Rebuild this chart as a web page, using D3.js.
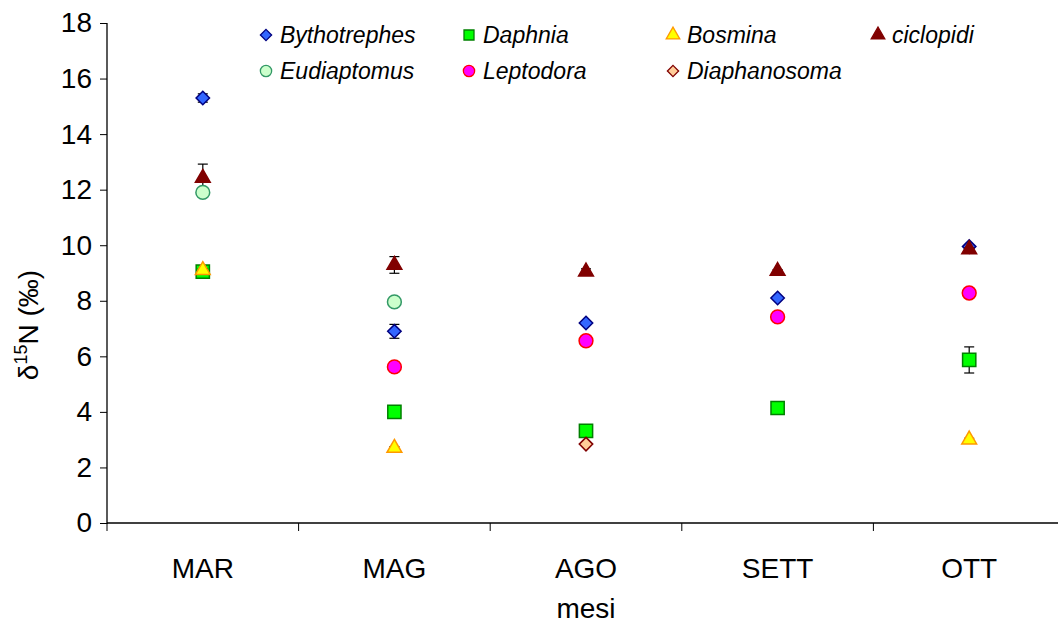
<!DOCTYPE html>
<html>
<head>
<meta charset="utf-8">
<script src="https://cdn.jsdelivr.net/npm/d3@7"></script>
<style>
body { margin: 0; background: #fff; }
svg { font-family: Arial, "Liberation Sans", sans-serif; }
</style>
</head>
<body>
<script>
// months on the x axis
var months = ["MAR", "MAG", "AGO", "SETT", "OTT"];
var yTicks = [0, 2, 4, 6, 8, 10, 12, 14, 16, 18];

// delta15N per species, null where not sampled
var bythotrephes = [15.3, 6.9, 7.2, 8.1, 9.95];
var daphnia = [9.05, 4.0, 3.32, 4.14, 5.87];
var bosmina = [9.1, 2.7, null, null, 3.0];
var ciclopidi = [12.42, 9.29, 9.05, 9.07, 9.85];
var eudiaptomus = [11.9, 7.96, null, null, null];
var leptodora = [null, 5.62, 6.56, 7.42, 8.28];
var diaphanosoma = [null, null, 2.84, null, null];

// standard errors
var bythotrephesErr = [0.15, 0.25, 0.05, 0.05, 0.05];
var daphniaErr = [0.05, 0.05, 0.12, 0.05, 0.47];
var bosminaErr = [0.05, 0.05, null, null, 0.05];
var ciclopidiErr = [0.5, 0.3, 0.1, 0.05, 0.05];
var eudiaptomusErr = [0.05, 0.05, null, null, null];
var leptodoraErr = [null, 0.17, 0.05, 0.05, 0.05];
var diaphanosomaErr = [null, null, 0.05, null, null];

var species = [
  {name: "Bythotrephes", vals: bythotrephes, err: bythotrephesErr, shape: "diamond", fill: "#3366ff", stroke: "#000080"},
  {name: "Daphnia", vals: daphnia, err: daphniaErr, shape: "square", fill: "#00ff00", stroke: "#008000"},
  {name: "Bosmina", vals: bosmina, err: bosminaErr, shape: "triangle", fill: "#ffff00", stroke: "#ff9900"},
  {name: "ciclopidi", vals: ciclopidi, err: ciclopidiErr, shape: "triangle", fill: "#800000", stroke: "#800000"},
  {name: "Eudiaptomus", vals: eudiaptomus, err: eudiaptomusErr, shape: "circle", fill: "#ccffcc", stroke: "#339966"},
  {name: "Leptodora", vals: leptodora, err: leptodoraErr, shape: "circle", fill: "#ff00ff", stroke: "#ff0000"},
  {name: "Diaphanosoma", vals: diaphanosoma, err: diaphanosomaErr, shape: "diamond", fill: "#ffcc99", stroke: "#800000"}
];

var w = 1058, h = 627;
var mLeft = 107, mRight = 1065, mTop = 23, mBottom = 523;

var svg = d3.select("body").append("svg")
  .attr("width", w).attr("height", h);

var x = d3.scaleBand().domain(months).range([mLeft, mRight]);
var y = d3.scaleLinear().domain([0, 18]).range([mBottom, mTop]);

var symTypes = {diamond: d3.symbolDiamond2, square: d3.symbolSquare, triangle: d3.symbolTriangle, circle: d3.symbolCircle};
var symSizes = {diamond: 115, square: 175, triangle: 95, circle: 150};

// axes
var gx = svg.append("g").attr("transform", "translate(0," + mBottom + ")");
gx.append("path").attr("d", "M" + mLeft + ",0H" + w).attr("stroke", "#000").attr("stroke-width", 1.3);
gx.selectAll(".sep").data(months).enter().append("line")
  .attr("x1", function(d){ return x(d); }).attr("x2", function(d){ return x(d); })
  .attr("y1", 0).attr("y2", 8).attr("stroke", "#000");
gx.selectAll(".lbl").data(months).enter().append("text")
  .attr("x", function(d){ return x(d) + x.bandwidth() / 2; })
  .attr("y", 55).attr("text-anchor", "middle")
  .attr("font-size", 28).attr("fill", "#000")
  .text(function(d){ return d; });

var yAxis = d3.axisLeft(y).tickValues(yTicks).tickSize(7).tickPadding(8);
var gy = svg.append("g").attr("transform", "translate(" + mLeft + ",0)").call(yAxis);
gy.select(".domain").attr("d", "M0," + mTop + "V" + (mBottom + 1)).attr("stroke-width", 1.3);
gy.selectAll("text").attr("font-size", 28).attr("font-family", "Arial, 'Liberation Sans', sans-serif");

svg.append("text").attr("x", x("AGO") + x.bandwidth() / 2).attr("y", 618)
  .attr("text-anchor", "middle").attr("font-size", 28).text("mesi");

var yl = svg.append("text")
  .attr("transform", "translate(38,325) rotate(-90)")
  .attr("text-anchor", "middle").attr("font-size", 28);
yl.append("tspan").text("δ");
yl.append("tspan").attr("font-size", 18).attr("dy", -11).text("15");
yl.append("tspan").attr("dy", 11).text("N (‰)");

// points
var cx = function(i){ return x(months[i]) + x.bandwidth() / 2; };
species.forEach(function(s){
  var pts = s.vals.map(function(v, i){ return {i: i, v: v, e: s.err[i]}; })
    .filter(function(d){ return d.v !== null; });
  var g = svg.append("g");
  var eb = g.selectAll(".eb").data(pts).enter().append("g").attr("stroke", "#000").attr("stroke-width", 1.2);
  eb.append("line")
    .attr("x1", function(d){ return cx(d.i); }).attr("x2", function(d){ return cx(d.i); })
    .attr("y1", function(d){ return y(d.v - d.e); }).attr("y2", function(d){ return y(d.v + d.e); });
  eb.append("line")
    .attr("x1", function(d){ return cx(d.i) - 5; }).attr("x2", function(d){ return cx(d.i) + 5; })
    .attr("y1", function(d){ return y(d.v + d.e); }).attr("y2", function(d){ return y(d.v + d.e); });
  eb.append("line")
    .attr("x1", function(d){ return cx(d.i) - 5; }).attr("x2", function(d){ return cx(d.i) + 5; })
    .attr("y1", function(d){ return y(d.v - d.e); }).attr("y2", function(d){ return y(d.v - d.e); });
  g.selectAll(".pt").data(pts).enter().append("path")
    .attr("d", d3.symbol().type(symTypes[s.shape]).size(symSizes[s.shape]))
    .attr("transform", function(d){ return "translate(" + cx(d.i) + "," + y(d.v) + ")"; })
    .attr("fill", s.fill).attr("stroke", s.stroke).attr("stroke-width", 1.5);
});

// legend
var legX = [266, 469, 673, 878];
var leg = svg.append("g");
species.forEach(function(s, k){
  var lx = legX[k % 4], ly = 35 + Math.floor(k / 4) * 36;
  leg.append("path")
    .attr("d", d3.symbol().type(symTypes[s.shape]).size(s.shape === "diamond" ? 80 : s.shape === "triangle" ? 80 : 100))
    .attr("transform", "translate(" + lx + "," + ly + ")")
    .attr("fill", s.fill).attr("stroke", s.stroke).attr("stroke-width", 1.3);
  leg.append("text").attr("x", lx + 14).attr("y", ly + 8)
    .attr("font-size", 23).attr("font-style", "italic").text(s.name);
});
</script>
</body>
</html>
